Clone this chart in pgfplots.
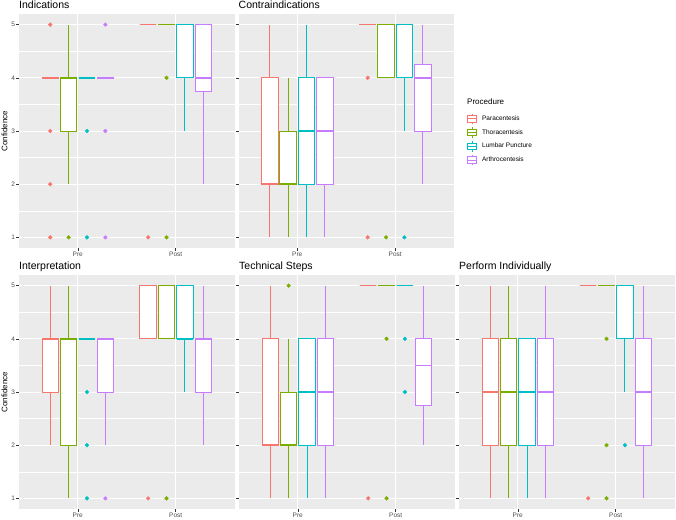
\documentclass[border=0pt]{standalone}
\usepackage{pgfplots}
\pgfplotsset{compat=1.18}
\usepgfplotslibrary{statistics}
\usepackage{fontspec}
\setmainfont{Liberation Sans}
\definecolor{cPara}{HTML}{F8766D}
\definecolor{cThor}{HTML}{7CAE00}
\definecolor{cLumb}{HTML}{00BFC4}
\definecolor{cArth}{HTML}{C77CFF}
\definecolor{panelbg}{HTML}{EBEBEB}
\definecolor{tickcol}{HTML}{333333}
\definecolor{ticklab}{HTML}{4D4D4D}

% box: colour, position, lower whisker, Q1, median, Q3, upper whisker
\newcommand{\bx}[7]{%
  \addplot[#1, forget plot, line width=0.85pt, boxplot prepared={draw direction=y, draw position=#2, lower whisker=#3, lower quartile=#4, median=#5, upper quartile=#6, upper whisker=#7}] coordinates {};}
\newcommand{\outl}[2]{%
  \addplot[forget plot, only marks, mark=*, mark size=1.9pt, color=#1] coordinates {#2};}

\pgfplotsset{
  panel/.style={
    scale only axis, width=215.5pt, height=234pt,
    xmin=0.4, xmax=2.6, ymin=0.8, ymax=5.2,
    axis background/.style={fill=panelbg},
    axis line style={draw=none},
    xtick={1,2}, xticklabels={Pre,Post},
    ytick={1,2,3,4,5},
    minor ytick={1.5,2.5,3.5,4.5},
    xmajorgrids, ymajorgrids, yminorgrids,
    major grid style={white, line width=0.9pt},
    minor grid style={white, line width=0.45pt},
    tick align=outside, tick pos=left,
    major tick length=2.75pt, minor tick length=0pt,
    tick style={color=tickcol, line width=0.5pt},
    ticklabel style={font=\fontsize{6.5}{7.5}\selectfont, text=ticklab, inner sep=1pt},
    every axis title/.style={at={(0,1)}, anchor=base west, yshift=5pt, inner sep=0pt, font=\fontsize{10.5}{12}\selectfont},
    every axis y label/.style={at={(rel axis cs:0,0.5)}, xshift=-14.5pt, rotate=90, anchor=center, font=\fontsize{8}{9.6}\selectfont},
    boxplot/draw direction=y,
    boxplot/box extend=0.169,
    boxplot/whisker extend=0,
    boxplot/every box/.style={fill=white, draw},
    boxplot/every median/.style={line width=1.7pt},
    clip=false,
  },
  bpkey/.style={legend image code/.code={
    \draw[fill=white, line width=0.85pt] (0pt,-3.2pt) rectangle (9.6pt,3.2pt);
    \draw[line width=0.85pt] (0pt,0pt) -- (9.6pt,0pt);
    \draw[line width=0.85pt] (4.8pt,3.2pt) -- (4.8pt,5.2pt) (4.8pt,-3.2pt) -- (4.8pt,-5.2pt);
  }},
}

\begin{document}
\begin{tikzpicture}
\useasboundingbox (0,0) rectangle (676pt,519pt);

% ---------------- Indications ----------------
\begin{axis}[panel, at={(19pt,271pt)}, anchor=south west, title={Indications}, ylabel={Confidence}, yticklabels={1,2,3,4,5}]
\outl{cPara}{(0.71875,5) (0.71875,3) (0.71875,2) (0.71875,1)}
\bx{cPara}{0.71875}{4}{4}{4}{4}{4}
\outl{cThor}{(0.90625,1)}
\bx{cThor}{0.90625}{2}{3}{4}{4}{5}
\outl{cLumb}{(1.09375,3) (1.09375,1)}
\bx{cLumb}{1.09375}{4}{4}{4}{4}{4}
\outl{cArth}{(1.28125,5) (1.28125,3) (1.28125,1)}
\bx{cArth}{1.28125}{4}{4}{4}{4}{4}
\outl{cPara}{(1.71875,1)}
\bx{cPara}{1.71875}{5}{5}{5}{5}{5}
\outl{cThor}{(1.90625,4) (1.90625,1)}
\bx{cThor}{1.90625}{5}{5}{5}{5}{5}
\bx{cLumb}{2.09375}{3}{4}{5}{5}{5}
\bx{cArth}{2.28125}{2}{3.75}{4}{5}{5}
\end{axis}

% ---------------- Contraindications ----------------
\begin{axis}[panel, at={(238.5pt,271pt)}, anchor=south west, title={Contraindications}, yticklabels={},
  legend style={at={(1.058,0.577)}, anchor=north west, draw=none, fill=none, inner sep=0pt, row sep=2.5pt, column sep=5pt,
    nodes={inner sep=0pt, font=\fontsize{6.5}{7.5}\selectfont, text=black}},
  legend cell align=left]
\bx{cPara}{0.71875}{1}{2}{2}{4}{5}
\bx{cThor}{0.90625}{1}{2}{2}{3}{4}
\bx{cLumb}{1.09375}{1}{2}{3}{4}{5}
\bx{cArth}{1.28125}{1}{2}{3}{4}{4}
\outl{cPara}{(1.71875,4) (1.71875,1)}
\bx{cPara}{1.71875}{5}{5}{5}{5}{5}
\outl{cThor}{(1.90625,1)}
\bx{cThor}{1.90625}{4}{4}{5}{5}{5}
\outl{cLumb}{(2.09375,1)}
\bx{cLumb}{2.09375}{3}{4}{5}{5}{5}
\bx{cArth}{2.28125}{2}{3}{4}{4.25}{5}
\addlegendimage{cPara, bpkey}\addlegendentry{Paracentesis}
\addlegendimage{cThor, bpkey}\addlegendentry{Thoracentesis}
\addlegendimage{cLumb, bpkey}\addlegendentry{Lumbar Puncture}
\addlegendimage{cArth, bpkey}\addlegendentry{Arthrocentesis}
\end{axis}
\node[anchor=base west, inner sep=0pt, font=\fontsize{8}{9.6}\selectfont] at (467pt,414pt) {Procedure};

% ---------------- Interpretation ----------------
\begin{axis}[panel, at={(19pt,10pt)}, anchor=south west, title={Interpretation}, ylabel={Confidence}, yticklabels={1,2,3,4,5}]
\bx{cPara}{0.71875}{2}{3}{4}{4}{5}
\bx{cThor}{0.90625}{1}{2}{4}{4}{5}
\outl{cLumb}{(1.09375,3) (1.09375,2) (1.09375,1)}
\bx{cLumb}{1.09375}{4}{4}{4}{4}{4}
\outl{cArth}{(1.28125,1)}
\bx{cArth}{1.28125}{2}{3}{4}{4}{4}
\outl{cPara}{(1.71875,1)}
\bx{cPara}{1.71875}{4}{4}{5}{5}{5}
\outl{cThor}{(1.90625,1)}
\bx{cThor}{1.90625}{4}{4}{5}{5}{5}
\bx{cLumb}{2.09375}{3}{4}{4}{5}{5}
\bx{cArth}{2.28125}{2}{3}{4}{4}{5}
\end{axis}

% ---------------- Technical Steps ----------------
\begin{axis}[panel, at={(239pt,10pt)}, anchor=south west, title={Technical Steps}, yticklabels={}]
\bx{cPara}{0.71875}{1}{2}{2}{4}{5}
\outl{cThor}{(0.90625,5)}
\bx{cThor}{0.90625}{1}{2}{2}{3}{4}
\bx{cLumb}{1.09375}{1}{2}{3}{4}{4}
\bx{cArth}{1.28125}{1}{2}{3}{4}{5}
\outl{cPara}{(1.71875,1)}
\bx{cPara}{1.71875}{5}{5}{5}{5}{5}
\outl{cThor}{(1.90625,4) (1.90625,1)}
\bx{cThor}{1.90625}{5}{5}{5}{5}{5}
\outl{cLumb}{(2.09375,4) (2.09375,3)}
\bx{cLumb}{2.09375}{5}{5}{5}{5}{5}
\bx{cArth}{2.28125}{2}{2.75}{3.5}{4}{5}
\end{axis}

% ---------------- Perform Individually ----------------
\begin{axis}[panel, at={(459pt,10pt)}, anchor=south west, title={Perform Individually}, yticklabels={}]
\bx{cPara}{0.71875}{1}{2}{3}{4}{5}
\bx{cThor}{0.90625}{1}{2}{3}{4}{5}
\bx{cLumb}{1.09375}{1}{2}{3}{4}{4}
\bx{cArth}{1.28125}{1}{2}{3}{4}{5}
\outl{cPara}{(1.71875,1)}
\bx{cPara}{1.71875}{5}{5}{5}{5}{5}
\outl{cThor}{(1.90625,4) (1.90625,2) (1.90625,1)}
\bx{cThor}{1.90625}{5}{5}{5}{5}{5}
\outl{cLumb}{(2.09375,2)}
\bx{cLumb}{2.09375}{3}{4}{5}{5}{5}
\bx{cArth}{2.28125}{1}{2}{3}{4}{5}
\end{axis}
\end{tikzpicture}
\end{document}
